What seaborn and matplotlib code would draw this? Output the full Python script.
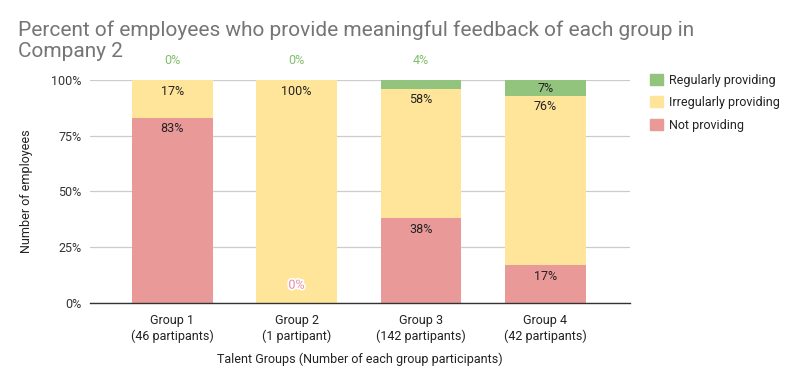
import numpy as np
import pandas as pd
import seaborn as sns
import matplotlib.pyplot as plt
import matplotlib.patheffects as pe
from matplotlib.patches import Patch

sns.set_theme(style='white')
plt.rcParams['font.family'] = ['Roboto', 'DejaVu Sans']

groups = ['Group 1\n(46 partipants)', 'Group 2\n(1 partipant)',
          'Group 3\n(142 partipants)', 'Group 4\n(42 partipants)']
not_prov = [83, 0, 38, 17]
irreg = [17, 100, 58, 76]
regular = [0, 0, 4, 7]

c_green, c_yellow, c_red = '#93c47d', '#ffe599', '#ea9999'

df = pd.DataFrame({'group': groups, 'not': not_prov, 'irr': irreg, 'reg': regular})
df['top_irr'] = df['not'] + df['irr']
df['top_reg'] = df['top_irr'] + df['reg']

fig = plt.figure(figsize=(8, 3.86), dpi=100)
ax = fig.add_axes([0.1125, 0.215, 0.675, 0.578])

# stacked by overlaying cumulative heights
for col, c in [('top_reg', c_green), ('top_irr', c_yellow), ('not', c_red)]:
    sns.barplot(data=df, x='group', y=col, color=c, width=0.65, ax=ax,
                saturation=1, linewidth=0, zorder=2)

ax.set_ylim(0, 100)
ax.set_xlim(-0.66, 3.68)
ax.set_yticks([0, 25, 50, 75, 100])
ax.set_yticklabels(['0%', '25%', '50%', '75%', '100%'], fontsize=9, color='#333333')
ax.tick_params(axis='x', labelsize=9, colors='#222222', length=0, pad=8)
ax.tick_params(axis='y', length=0, pad=6)
ax.grid(axis='y', color='#cccccc', linewidth=0.9, zorder=0)
ax.set_axisbelow(True)
for s in ['top', 'right', 'left']:
    ax.spines[s].set_visible(False)
ax.spines['bottom'].set_color('#333333')
ax.spines['bottom'].set_linewidth(1)
ax.spines['bottom'].set_zorder(5)

ax.set_xlabel('Talent Groups (Number of each group participants)', fontsize=9,
              color='#222222', labelpad=7)
ax.set_ylabel('Number of employees', fontsize=9, color='#222222', labelpad=13)

for i, r in df.iterrows():
    # not providing
    if r['not'] > 0:
        ax.text(i, r['not'] - 5, f"{r['not']}%", ha='center', va='center',
                fontsize=9, color='#222222', zorder=6)
    else:
        ax.text(i, 8, '0%', ha='center', va='center', fontsize=9, color='#e88aa0',
                zorder=6, path_effects=[pe.withStroke(linewidth=2.5, foreground='white')])
    # irregularly
    ax.text(i, r['top_irr'] - 5, f"{r['irr']}%", ha='center', va='center',
            fontsize=9, color='#222222', zorder=6)
    # regularly
    if r['reg'] >= 6:
        ax.text(i, r['top_reg'] - r['reg'] / 2 - 0.5, f"{r['reg']}%", ha='center',
                va='center', fontsize=9, color='#222222', zorder=6)
    else:
        ax.text(i, 108.5, f"{r['reg']}%", ha='center', va='center', fontsize=9,
                color='#7fbf6a', zorder=6, clip_on=False)

handles = [Patch(color=c_green, label='Regularly providing'),
           Patch(color=c_yellow, label='Irregularly providing'),
           Patch(color=c_red, label='Not providing')]
fig.legend(handles=handles, loc='upper left', bbox_to_anchor=(0.799, 0.838),
           frameon=False, fontsize=9, handlelength=1.0, handleheight=1.0,
           handletextpad=0.5, labelspacing=0.75, labelcolor='#222222')

fig.text(0.022, 0.922, 'Percent of employees who provide meaningful feedback of each group in',
         fontsize=15, color='#757575', va='center', ha='left')
fig.text(0.022, 0.867, 'Company 2', fontsize=15, color='#757575', va='center', ha='left')

fig.savefig('out.png', dpi=100)
